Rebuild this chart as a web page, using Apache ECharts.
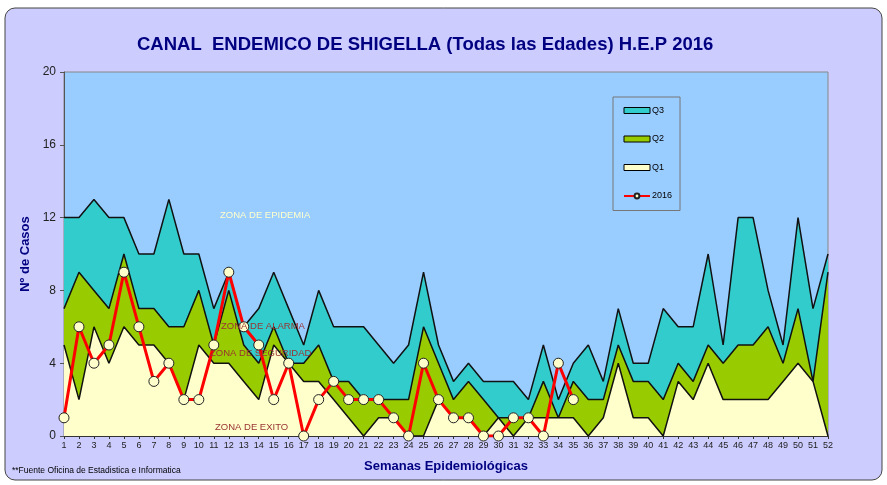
<!DOCTYPE html>
<html>
<head>
<meta charset="utf-8">
<script src="https://cdn.jsdelivr.net/npm/echarts@6/dist/echarts.min.js"></script>
<style>
  html, body { margin: 0; padding: 0; background: #fff; }
  #chart { width: 887px; height: 485px; }
</style>
</head>
<body>
<div id="chart"></div>
<script>
// semanas 1..52
const weeks = [];
for (let i = 1; i <= 52; i++) weeks.push(String(i));

const q3 = [12,12,13,12,12,10,10,13,10,10,7,9, 6,7,9,7,5,8,6,6,6,5,4,5,
            9,5,3,4,3,3,3,2,5,2,4,5, 3,7,4,4,7,6,6,10,5,12,12,8, 5,12,7,10];
const q2 = [7,9,8,7,10,7,7,6,6,8,5,8, 5,4,6,4,4,5,3,3,2,2,2,2,
            6,4,2,3,2,1,1,1,3,1,3,2, 2,5,3,3,2,4,3,5,4,5,5,6, 4,7,3,9];
const q1 = [5,2,6,4,6,5,5,4,2,5,4,4, 3,2,5,4,3,3,2,1,0,1,1,0,
            0,2,1,1,0,1,0,1,1,1,1,0, 1,4,1,1,0,3,2,4,2,2,2,2, 3,4,3,0];
const y2016 = [1,6,4,5,9,6,3,4,2,2,5,9, 6,5,2,4,0,2,3,2,2,2,1,0,
               4,2,1,1,0,0,1,1,0,4,2];

const yTicks = { min: 0, max: 20, interval: 4 };

const font = "'Liberation Sans', Arial, sans-serif";
const zoneColor = "#993333";

const chart = echarts.init(document.getElementById("chart"));

const areaSeries = (name, data, color) => ({
  name: name,
  type: "line",
  data: data,
  symbol: "none",
  lineStyle: { color: "#111", width: 1.5 },
  itemStyle: { color: color, borderColor: "#000", borderWidth: 1 },
  areaStyle: { color: color, opacity: 1 },
  animation: false,
});

chart.setOption({
  animation: false,
  textStyle: { fontFamily: font },
  graphic: [
    {
      type: "rect",
      z: -10,
      shape: { x: 5, y: 8, width: 877, height: 472, r: 10 },
      style: { fill: "#CCCCFF", stroke: "#444", lineWidth: 1 },
    },
    {
      type: "text", left: 220, top: 210, z: 100,
      style: { text: "ZONA DE EPIDEMIA", fill: "#FFFFCC", font: "9.5px " + font },
    },
    {
      type: "text", left: 221, top: 321, z: 100,
      style: { text: "ZONA DE ALARMA", fill: zoneColor, font: "9.5px " + font },
    },
    {
      type: "text", left: 210, top: 348, z: 100,
      style: { text: "ZONA DE SEGURIDAD", fill: zoneColor, font: "9.5px " + font },
    },
    {
      type: "text", left: 215, top: 422, z: 100,
      style: { text: "ZONA DE EXITO", fill: zoneColor, font: "9.5px " + font },
    },
    {
      type: "text", left: 12, top: 466,
      style: { text: "**Fuente Oficina de Estadistica e Informatica", fill: "#000", font: "8.5px " + font },
    },
  ],
  title: {
    text: "CANAL  ENDEMICO DE SHIGELLA (Todas las Edades) H.E.P 2016",
    left: 137,
    top: 35,
    padding: 0,
    textStyle: { color: "#000080", fontSize: 18.5, fontWeight: "bold", fontFamily: font },
  },
  legend: {
    orient: "vertical",
    left: 613,
    top: 97,
    padding: [9, 8, 10, 10],
    itemGap: 19.5,
    itemWidth: 26,
    itemHeight: 6,
    backgroundColor: "#99CCFF",
    borderColor: "#777",
    borderWidth: 1,
    textStyle: { fontSize: 9, color: "#000", fontFamily: font, padding: [0, 0, 0, -3] },
    data: [
      { name: "Q3", icon: "rect", itemStyle: { color: "#33CCCC", borderColor: "#000", borderWidth: 1 } },
      { name: "Q2", icon: "rect", itemStyle: { color: "#99CC00", borderColor: "#000", borderWidth: 1 } },
      { name: "Q1", icon: "rect", itemStyle: { color: "#FFFFCC", borderColor: "#000", borderWidth: 1 } },
      { name: "2016" },
    ],
  },
  grid: {
    left: 64,
    right: 59,
    top: 72,
    bottom: 49,
    show: true,
    backgroundColor: "#99CCFF",
    borderColor: "#888",
    borderWidth: 1,
  },
  xAxis: {
    type: "category",
    data: weeks,
    boundaryGap: false,
    name: "Semanas Epidemiológicas",
    nameLocation: "middle",
    nameGap: 24,
    nameTextStyle: { color: "#000080", fontSize: 13, fontWeight: "bold" },
    axisLine: { lineStyle: { color: "#333", width: 1 } },
    axisTick: { show: true, length: 3, lineStyle: { color: "#333" } },
    axisLabel: { interval: 0, fontSize: 9, color: "#222", margin: 5 },
  },
  yAxis: {
    type: "value",
    min: yTicks.min,
    max: yTicks.max,
    interval: yTicks.interval,
    name: "Nº de Casos",
    nameLocation: "middle",
    nameGap: 28,
    nameRotate: 90,
    nameTextStyle: { color: "#000080", fontSize: 13, fontWeight: "bold" },
    axisLine: { show: true, lineStyle: { color: "#555", width: 1 } },
    axisTick: { show: true, length: 4, lineStyle: { color: "#555" } },
    axisLabel: { fontSize: 12, color: "#222", margin: 8 },
    splitLine: { show: false },
  },
  series: [
    areaSeries("Q3", q3, "#33CCCC"),
    areaSeries("Q2", q2, "#99CC00"),
    areaSeries("Q1", q1, "#FFFFCC"),
    {
      name: "2016",
      type: "line",
      data: y2016,
      symbol: "circle",
      symbolSize: 10,
      lineStyle: { color: "#FF0000", width: 3 },
      itemStyle: { color: "#FFFFCC", borderColor: "#222", borderWidth: 1 },
      z: 5,
    },
  ],
});
</script>
</body>
</html>
